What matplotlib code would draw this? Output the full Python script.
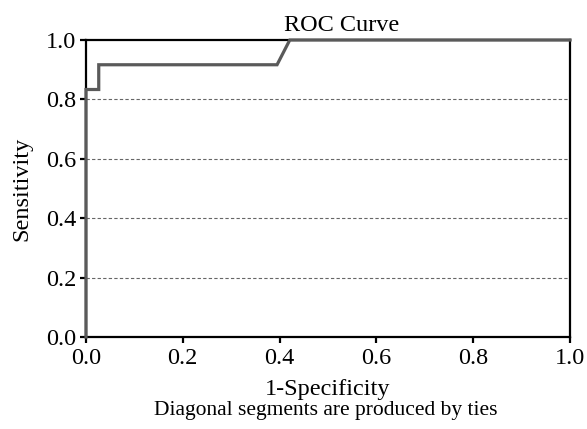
import matplotlib
matplotlib.use('Agg')
import matplotlib.pyplot as plt

plt.rcParams['font.family'] = ['Liberation Serif', 'DejaVu Serif']

# ROC points (1-specificity, sensitivity)
fpr = [0.0, 0.0, 1/38, 1/38, 15/38, 16/38, 1.0]
tpr = [0.0, 10/12, 10/12, 11/12, 11/12, 1.0, 1.0]
ticks = [0.0, 0.2, 0.4, 0.6, 0.8, 1.0]
tick_labels = ["0.0", "0.2", "0.4", "0.6", "0.8", "1.0"]

W, H = 587, 429
fig = plt.figure(figsize=(W / 100, H / 100), dpi=100)
ax = fig.add_axes([86 / W, 1 - 337 / H, 484 / W, 297 / H])

ax.plot(fpr, tpr, color='#5a5a5a', lw=2.3, clip_on=False, zorder=3,
        solid_joinstyle='miter')

ax.set_xlim(0, 1)
ax.set_ylim(0, 1)
ax.set_xticks(ticks)
ax.set_xticklabels(tick_labels)
ax.set_yticks(ticks)
ax.set_yticklabels(tick_labels)
for y in ticks[1:-1]:
    ax.axhline(y, color='#666666', lw=0.8, ls=(0, (3, 2)), zorder=1)

for s in ax.spines.values():
    s.set_linewidth(1.6)
    s.set_color('black')
ax.tick_params(direction='out', length=4, width=1.6, labelsize=17.5, pad=3)
ax.tick_params(axis='x', pad=4)

ax.text(0.528, 1.012, "ROC Curve", transform=ax.transAxes,
        ha='center', va='bottom', fontsize=17.5)
ax.set_ylabel("Sensitivity", fontsize=17.5, labelpad=10)
fig.text(328 / W, 1 - 390 / H, "1-Specificity",
         ha='center', va='center', fontsize=17.5)
fig.text(326 / W, 1 - 411 / H, "Diagonal segments are produced by ties",
         ha='center', va='center', fontsize=15.5)

fig.savefig("out.png", dpi=100)
